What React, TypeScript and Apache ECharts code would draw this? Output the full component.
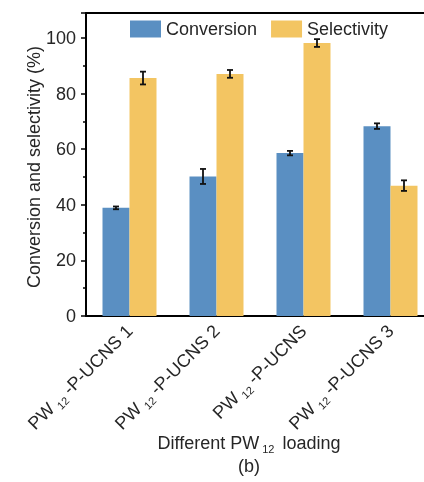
import React, { useEffect, useRef } from "react";
import * as echarts from "echarts";

const categories = ["PW{sub|12}-P-UCNS 1", "PW{sub|12}-P-UCNS 2", "PW{sub|12}-P-UCNS", "PW{sub|12}-P-UCNS 3"];
const conversion = [38.9, 50.2, 58.6, 68.3];
const conversionErr = [0.5, 2.7, 0.8, 1.0];
const selectivity = [85.6, 87.1, 98.2, 46.9];
const selectivityErr = [2.3, 1.4, 1.4, 1.9];
const yTicks = [0, 20, 40, 60, 80, 100];

const BLUE = "#5a8fc2";
const YELLOW = "#f3c562";
const TEXT = "#262626";
const BAR_W = 27;
const FONT = "Liberation Sans, Arial, sans-serif";

export default function App() {
  const ref = useRef<HTMLDivElement>(null);
  useEffect(() => {
    if (!ref.current) return;
    const chart = echarts.init(ref.current, null, { renderer: "svg" });
    const errSeries = (vals: number[], errs: number[], offset: number) => ({
      type: "custom",
      silent: true,
      z: 10,
      data: vals.map((v, i) => [i, v, errs[i]]),
      encode: { x: 0, y: 1 },
      renderItem: (params: any, api: any) => {
        const i = api.value(0);
        const v = api.value(1);
        const e = api.value(2);
        const top = api.coord([i, v + e]);
        const bot = api.coord([i, v - e]);
        const x = top[0] + offset;
        const cap = 3;
        const st = { stroke: "#111", lineWidth: 1.8 };
        return {
          type: "group",
          children: [
            { type: "line", shape: { x1: x, y1: top[1], x2: x, y2: bot[1] }, style: st },
            { type: "line", shape: { x1: x - cap, y1: top[1], x2: x + cap, y2: top[1] }, style: st },
            { type: "line", shape: { x1: x - cap, y1: bot[1], x2: x + cap, y2: bot[1] }, style: st },
          ],
        };
      },
    });
    chart.setOption({
      animation: false,
      textStyle: { fontFamily: FONT },
      grid: { left: 86, top: 13, width: 348, bottom: 166, containLabel: false },
      legend: {
        top: 15,
        left: 125,
        itemWidth: 31,
        itemHeight: 17,
        itemGap: 14,
        textStyle: { fontSize: 18, color: TEXT, fontFamily: FONT },
        data: [
          { name: "Conversion", icon: "rect" },
          { name: "Selectivity", icon: "rect" },
        ],
      },
      xAxis: [
        {
          type: "category",
          data: categories,
          axisLine: { lineStyle: { color: "#000", width: 2 } },
          axisTick: { show: false },
          axisLabel: {
            interval: 0,
            rotate: 45,
            margin: 12,
            fontSize: 18,
            color: TEXT,
            fontFamily: FONT,
            rich: {
              sub: { fontSize: 11, color: TEXT, fontFamily: FONT, verticalAlign: "bottom", padding: [12, 4, 0, 4] },
            },
          },
        },
        {
          type: "category",
          position: "top",
          data: categories,
          axisLine: { show: true, lineStyle: { color: "#000", width: 2 } },
          axisTick: { show: false },
          axisLabel: { show: false },
        },
      ],
      yAxis: {
        type: "value",
        min: 0,
        max: 109,
        interval: 20,
        axisLine: { show: true, lineStyle: { color: "#000", width: 2 } },
        axisTick: { show: true, length: 5, lineStyle: { color: "#000", width: 1.5 } },
        minorTick: { show: true, splitNumber: 2, length: 3, lineStyle: { color: "#000", width: 1.5 } },
        splitLine: { show: false },
        axisLabel: {
          fontSize: 18,
          color: TEXT,
          margin: 10,
          fontFamily: FONT,
          showMaxLabel: false,
          formatter: (v: number) => (yTicks.includes(v) ? String(v) : ""),
        },
      },
      series: [
        {
          name: "Conversion",
          type: "bar",
          data: conversion,
          barWidth: BAR_W,
          barGap: "0%",
          itemStyle: { color: BLUE },
        },
        {
          name: "Selectivity",
          type: "bar",
          data: selectivity,
          barWidth: BAR_W,
          barGap: "0%",
          itemStyle: { color: YELLOW },
        },
        errSeries(conversion, conversionErr, -BAR_W / 2),
        errSeries(selectivity, selectivityErr, BAR_W / 2),
      ],
      graphic: [
        {
          type: "text",
          x: 34,
          y: 167,
          rotation: Math.PI / 2,
          style: {
            text: "Conversion and selectivity (%)",
            fontSize: 18,
            fill: TEXT,
            fontFamily: FONT,
            align: "center",
            verticalAlign: "middle",
          },
        },
        {
          type: "text",
          x: 249,
          y: 443,
          style: {
            text: "Different PW{sub|12} loading",
            fontSize: 18,
            fill: TEXT,
            fontFamily: FONT,
            align: "center",
            verticalAlign: "middle",
            rich: {
              sub: { fontSize: 11, fill: TEXT, fontFamily: FONT, verticalAlign: "bottom", padding: [12, 3, 0, 3] },
            },
          },
        },
        {
          type: "text",
          x: 249,
          y: 466,
          style: {
            text: "(b)",
            fontSize: 18,
            fill: TEXT,
            fontFamily: FONT,
            align: "center",
            verticalAlign: "middle",
          },
        },
      ],
    });
    return () => chart.dispose();
  }, []);
  return <div ref={ref} style={{ width: 440, height: 482, position: "fixed", left: 0, top: 0 }} />;
}
